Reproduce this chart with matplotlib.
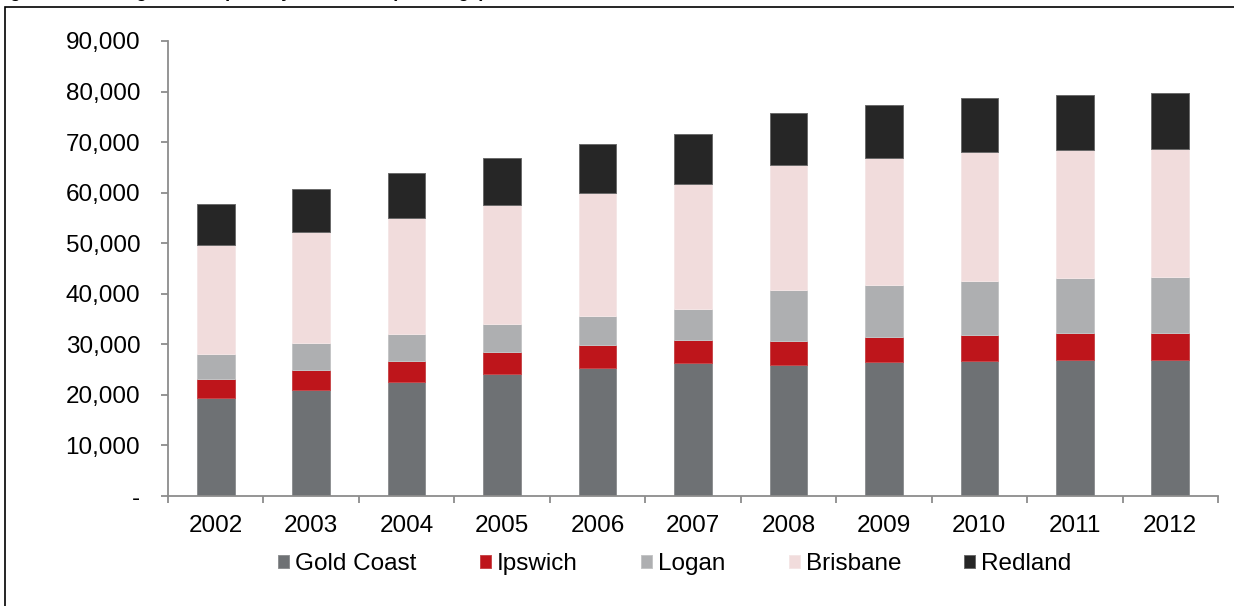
import matplotlib
matplotlib.use("Agg")
import matplotlib.pyplot as plt
from matplotlib.patches import Rectangle
import numpy as np

plt.rcParams["font.family"] = ["Liberation Sans", "DejaVu Sans"]

YEARS = ["2002", "2003", "2004", "2005", "2006", "2007", "2008", "2009", "2010", "2011", "2012"]
SERIES = ["Gold Coast", "Ipswich", "Logan", "Brisbane", "Redland"]

GOLD_COAST = [19400, 20900, 22600, 24100, 25300, 26300, 25900, 26500, 26800, 27000, 26900]
IPSWICH    = [3700, 4000, 4100, 4300, 4500, 4600, 4700, 4900, 5100, 5300, 5400]
LOGAN      = [4900, 5300, 5400, 5700, 5900, 6100, 10100, 10400, 10700, 10900, 11000]
BRISBANE   = [21700, 22000, 22900, 23500, 24300, 24700, 24800, 25100, 25400, 25200, 25400]
REDLAND    = [8100, 8600, 8800, 9200, 9600, 10000, 10300, 10500, 10700, 10900, 11000]

COLORS = ["#6e7174", "#be151b", "#aeafb1", "#f1dcdc", "#262626"]
EDGES = ["#8e9092", "#c8484c", "#c4c5c6", "#f4e6e6", "#6a6a6a"]

fig = plt.figure(figsize=(12.34, 6.06), dpi=100)
ax = fig.add_axes([168 / 1234, 1 - 496 / 606, 1050 / 1234, 455 / 606])

x = np.arange(len(YEARS))
bottom = np.zeros(len(YEARS))
for name, vals, c, ec in zip(SERIES, [GOLD_COAST, IPSWICH, LOGAN, BRISBANE, REDLAND], COLORS, EDGES):
    ax.bar(x, vals, 0.395, bottom=bottom, color=c, edgecolor=ec, linewidth=0.7, label=name)
    bottom += np.array(vals)

ax.set_xlim(-0.5, len(YEARS) - 0.5)
ax.set_ylim(0, 90000)
ax.set_yticks(range(0, 90001, 10000))
ax.set_yticklabels(["-"] + [f"{v:,}" for v in range(10000, 90001, 10000)])
ax.set_xticks(x)
ax.set_xticklabels(YEARS)
ax.set_xticks(np.arange(-0.5, len(YEARS)), minor=True)

for s in ["top", "right"]:
    ax.spines[s].set_visible(False)
for s in ["left", "bottom"]:
    ax.spines[s].set_color("#8c8c8c")
    ax.spines[s].set_linewidth(1.3)

ax.tick_params(axis="y", length=5, width=1.3, color="#8c8c8c", pad=15, labelsize=17.5)
ax.tick_params(axis="x", which="major", length=0, pad=13.5, labelsize=17.5)
ax.tick_params(axis="x", which="minor", length=5, width=1.3, color="#8c8c8c")

fig.legend(loc="center", bbox_to_anchor=(675 / 1234, 1 - 564 / 606), ncol=5, frameon=False,
           fontsize=17.5, handlelength=0.45, handleheight=0.45, handletextpad=0.25,
           columnspacing=2.6)

# outer frame (partly outside the crop) and the clipped caption above it
fig.patches.append(Rectangle((5 / 1234, -0.5), 2, 1.5 - 6.5 / 606, transform=fig.transFigure,
                             fill=False, edgecolor="black", linewidth=1.2))
fig.text(-0.005, 1.012, "Figure 3: Housing stock in primary catchment (dwellings)",
         fontsize=13, fontweight="bold", va="center", ha="left")

fig.savefig("out.png", dpi=100)
